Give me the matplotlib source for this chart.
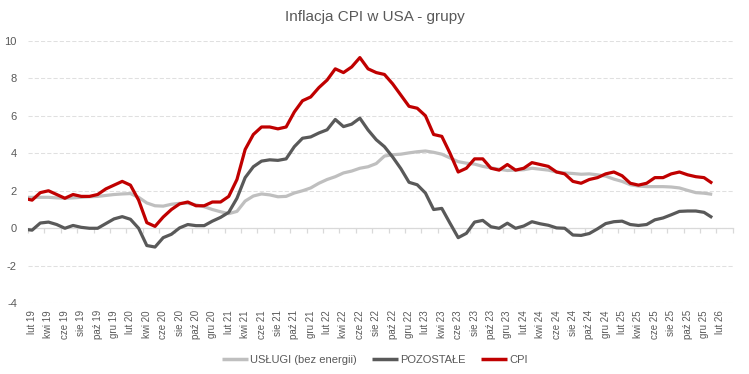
import matplotlib
matplotlib.use("Agg")
import matplotlib.pyplot as plt
import numpy as np

plt.rcParams['font.family'] = ['Liberation Sans', 'DejaVu Sans']
plt.rcParams['axes.unicode_minus'] = False

# Monthly data: Jan 2019 .. Jan 2026 (y/y, contributions in pp)
cpi = [1.6, 1.5, 1.9, 2.0, 1.8, 1.6, 1.8, 1.7, 1.7, 1.8, 2.1, 2.3,
       2.5, 2.3, 1.5, 0.3, 0.1, 0.6, 1.0, 1.3, 1.4, 1.2, 1.2, 1.4,
       1.4, 1.7, 2.6, 4.2, 5.0, 5.4, 5.4, 5.3, 5.4, 6.2, 6.8, 7.0,
       7.5, 7.9, 8.5, 8.3, 8.6, 9.1, 8.5, 8.3, 8.2, 7.7, 7.1, 6.5,
       6.4, 6.0, 5.0, 4.9, 4.0, 3.0, 3.2, 3.7, 3.7, 3.2, 3.1, 3.4,
       3.1, 3.2, 3.5, 3.4, 3.3, 3.0, 2.9, 2.5, 2.4, 2.6, 2.7, 2.9,
       3.0, 2.8, 2.4, 2.3, 2.4, 2.7, 2.7, 2.9, 3.0, 2.85, 2.75, 2.7,
       2.4]

uslugi = [1.65, 1.65, 1.65, 1.65, 1.62, 1.6, 1.62, 1.65, 1.68, 1.7, 1.75, 1.8,
          1.83, 1.85, 1.65, 1.35, 1.2, 1.18, 1.28, 1.33, 1.33, 1.25, 1.15, 1.0,
          0.88, 0.78, 0.9, 1.45, 1.72, 1.83, 1.78, 1.68, 1.7, 1.88, 2.0, 2.15,
          2.4, 2.6, 2.75, 2.95, 3.05, 3.2, 3.28, 3.45, 3.85, 3.92, 3.95, 4.02,
          4.08, 4.12, 4.05, 3.95, 3.75, 3.55, 3.47, 3.42, 3.3, 3.22, 3.15, 3.08,
          3.1, 3.12, 3.2, 3.15, 3.1, 3.0, 2.95, 2.92, 2.88, 2.9, 2.85, 2.78,
          2.62, 2.5, 2.32, 2.25, 2.22, 2.22, 2.22, 2.2, 2.15, 2.02, 1.9, 1.87,
          1.81]

pozostale = [-0.05, -0.1, 0.28, 0.33, 0.2, 0.0, 0.15, 0.05, 0.0, 0.0, 0.25, 0.5,
             0.62, 0.48, 0.0, -0.92, -1.0, -0.5, -0.32, 0.02, 0.2, 0.14, 0.14, 0.38,
             0.58, 0.85, 1.6, 2.7, 3.28, 3.58, 3.65, 3.62, 3.7, 4.35, 4.8, 4.87,
             5.08, 5.25, 5.8, 5.42, 5.55, 5.87, 5.24, 4.72, 4.35, 3.8, 3.18, 2.45,
             2.32, 1.88, 1.0, 1.06, 0.27, -0.5, -0.27, 0.33, 0.42, 0.08, 0.0, 0.27,
             0.0, 0.12, 0.35, 0.24, 0.16, 0.02, 0.0, -0.36, -0.38, -0.28, -0.03, 0.25,
             0.35, 0.38, 0.2, 0.15, 0.2, 0.45, 0.55, 0.72, 0.9, 0.92, 0.92, 0.85,
             0.57]

# Category axis: Feb 2019 .. Mar 2026 (86 categories); label every 2nd
tick_labels = ['lut 19', 'kwi 19', 'cze 19', 'sie 19', 'paź 19', 'gru 19',
               'lut 20', 'kwi 20', 'cze 20', 'sie 20', 'paź 20', 'gru 20',
               'lut 21', 'kwi 21', 'cze 21', 'sie 21', 'paź 21', 'gru 21',
               'lut 22', 'kwi 22', 'cze 22', 'sie 22', 'paź 22', 'gru 22',
               'lut 23', 'kwi 23', 'cze 23', 'sie 23', 'paź 23', 'gru 23',
               'lut 24', 'kwi 24', 'cze 24', 'sie 24', 'paź 24', 'gru 24',
               'lut 25', 'kwi 25', 'cze 25', 'sie 25', 'paź 25', 'gru 25',
               'lut 26']
n_categories = 86

series_names = ['USŁUGI (bez energii)', 'POZOSTAŁE', 'CPI']
series_colors = ['#BFBFBF', '#595959', '#C00000']

x = np.arange(len(cpi)) - 1  # Jan 2019 sits one step before Feb 2019

fig = plt.figure(figsize=(7.49, 3.74), dpi=100)
ax = fig.add_axes([28 / 749, 1 - 303.3 / 374, (732.7 - 28) / 749, (303.3 - 40.7) / 374])

for data, name, col in zip([uslugi, pozostale, cpi], series_names, series_colors):
    ax.plot(x, data, color=col, lw=2.3, label=name, solid_joinstyle='round',
            solid_capstyle='butt', zorder=3)

ax.set_xlim(-0.5, n_categories - 0.5)
ax.set_ylim(-4, 10)
ax.set_yticks(np.arange(-4, 11, 2))
ax.yaxis.grid(True, color='#E0E0E0', lw=0.75, ls=(0, (4, 2)))
ax.set_axisbelow(True)
for s in ['top', 'right', 'left']:
    ax.spines[s].set_visible(False)
ax.spines['bottom'].set_position(('data', 0))
ax.spines['bottom'].set_color('#D9D9D9')
ax.spines['bottom'].set_linewidth(0.9)

# tick marks on the zero axis line at every second category boundary
ax.set_xticks(np.arange(-0.5, n_categories, 2))
ax.tick_params(axis='x', which='major', length=3.5, color='#D9D9D9', width=0.9,
               labelbottom=False, direction='out')
ax.tick_params(axis='y', length=0, labelsize=8, labelcolor='#595959', pad=8)

# category labels at the bottom
sec = ax.secondary_xaxis(0.0)
sec.set_xticks(np.arange(0, 2 * len(tick_labels), 2))
sec.set_xticklabels(tick_labels, rotation=90, fontsize=7, color='#595959')
sec.tick_params(length=0, pad=5)
sec.spines['bottom'].set_visible(False)

fig.text(0.5, 1 - 17 / 374, 'Inflacja CPI w USA - grupy', ha='center', va='center',
         fontsize=11, color='#595959')

leg = fig.legend(loc='center', bbox_to_anchor=(375 / 749, 1 - 360 / 374), ncol=3,
                 frameon=False, fontsize=8, handlelength=2.3, handletextpad=0.2,
                 columnspacing=1.4, labelcolor='#595959')
for l in leg.get_lines():
    l.set_linewidth(2.5)

fig.savefig('out.png', dpi=100)
